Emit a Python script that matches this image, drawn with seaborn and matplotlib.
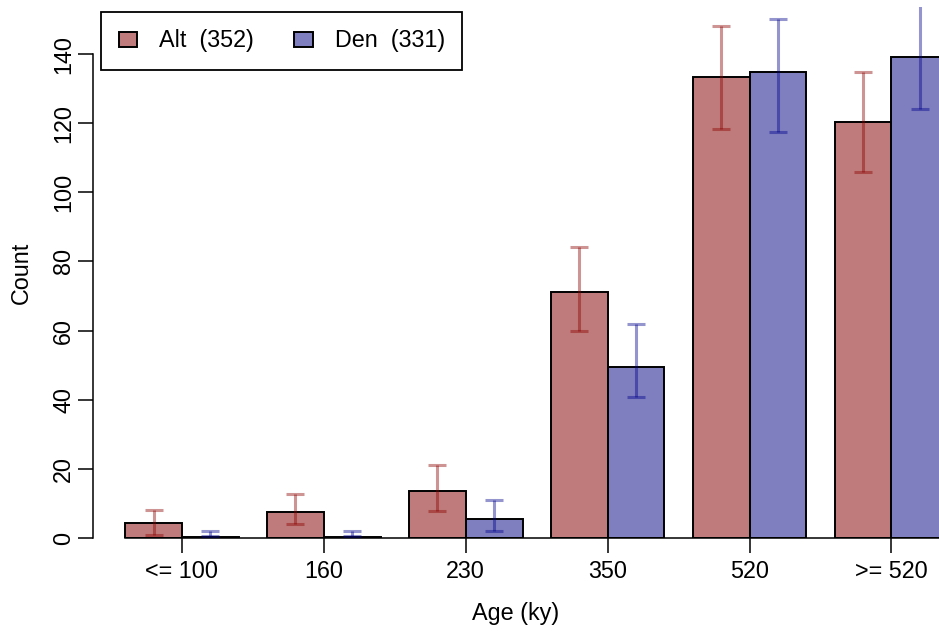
import matplotlib
matplotlib.use("Agg")
import matplotlib.pyplot as plt
import seaborn as sns
import pandas as pd
import numpy as np

# Age classes and per-group counts with their interval bounds
ages = ["<= 100", "160", "230", "350", "520", ">= 520"]
groups = ["Alt  (352)", "Den  (331)"]

alt_count = [4.4, 7.5, 13.7, 71.1, 133.4, 120.3]
alt_low = [0.9, 4.0, 7.9, 59.8, 118.2, 106.0]
alt_high = [8.1, 12.6, 21.1, 84.3, 148.2, 134.9]

den_count = [0.3, 0.3, 5.4, 49.6, 134.8, 139.1]
den_low = [0.6, 0.6, 2.0, 40.7, 117.4, 124.1]
den_high = [2.1, 2.1, 11.0, 61.9, 150.2, 158.0]

fill_colors = ["#BF7B7B", "#7F7FBF"]
err_colors = [(0.55, 0.0, 0.0, 0.42), (0.0, 0.0, 0.55, 0.42)]

sns.set_style("ticks")
plt.rcParams["font.family"] = ["Liberation Sans", "DejaVu Sans"]
for key in ("text.color", "axes.labelcolor", "xtick.color", "ytick.color"):
    plt.rcParams[key] = "black"
FS = 16.8

df = pd.DataFrame({
    "age": ages * 2,
    "count": alt_count + den_count,
    "group": [groups[0]] * len(ages) + [groups[1]] * len(ages),
})

fig = plt.figure(figsize=(9.39, 6.31), dpi=100)
ax = fig.add_axes([93 / 939, (631 - 538) / 631, 1 - 93 / 939, (538 - 7) / 631])

sns.barplot(data=df, x="age", y="count", hue="group", order=ages,
            hue_order=groups, palette=fill_colors, saturation=1,
            edgecolor="black", linewidth=1.4, errorbar=None, width=0.8,
            ax=ax)

# Interval whiskers centred on each bar, spanning low..high
bars = [p for p in ax.patches if p.get_width() > 0][:2 * len(ages)]
series = [(alt_low, alt_high), (den_low, den_high)]
for g, (lo, hi) in enumerate(series):
    gbars = bars[g * len(ages):(g + 1) * len(ages)]
    xs = [b.get_x() + b.get_width() / 2 for b in gbars]
    lo = np.array(lo)
    hi = np.array(hi)
    ax.errorbar(xs, lo, yerr=[np.zeros_like(lo), hi - lo], fmt="none",
                ecolor=err_colors[g], elinewidth=2.2, capsize=6.7,
                capthick=2.2, zorder=5)

ax.set_xlim(-0.627, 5.335)
ax.set_ylim(0, 153.6)

ax.set_yticks(range(0, 141, 20))
ax.set_yticklabels([str(t) for t in range(0, 141, 20)], rotation=90,
                   va="center", fontsize=FS)
ax.tick_params(axis="y", direction="out", length=10.8, width=1.1, pad=2,
               colors="black")
ax.tick_params(axis="x", direction="out", length=10.8, width=1.1, pad=5,
               labelsize=FS, colors="black")

ax.spines["top"].set_visible(False)
ax.spines["right"].set_visible(False)
ax.spines["left"].set_bounds(0, 140)
ax.spines["bottom"].set_bounds(-0.4, 5.335)
for s in ("left", "bottom"):
    ax.spines[s].set_linewidth(1.1)
    ax.spines[s].set_color("black")

ax.set_xlabel("Age (ky)", fontsize=FS, labelpad=14, color="black")
ax.set_ylabel("Count", fontsize=FS, labelpad=14, color="black")

leg = ax.legend(loc="upper left", bbox_to_anchor=(101 / 939, 1 - 12 / 631),
                bbox_transform=fig.transFigure, ncol=2, fontsize=FS,
                frameon=True, fancybox=False, edgecolor="black",
                handlelength=0.8, handleheight=0.62, handletextpad=0.95,
                columnspacing=1.7, borderpad=0.75, borderaxespad=0)
leg.get_frame().set_linewidth(1.3)
leg.get_frame().set_facecolor("white")
leg.get_frame().set_alpha(1)
for t in leg.get_texts():
    t.set_color("black")

fig.savefig("out.png", dpi=100)
